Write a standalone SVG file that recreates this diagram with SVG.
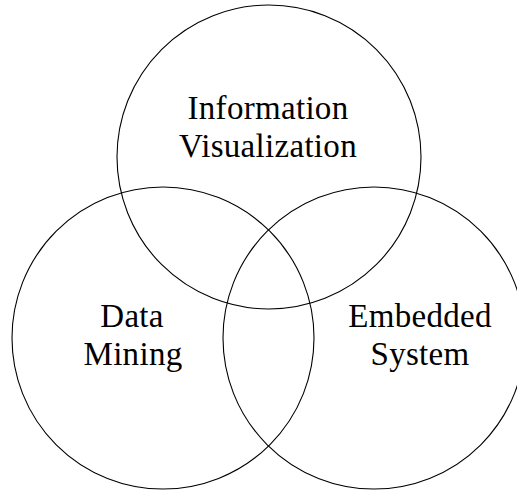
<svg xmlns="http://www.w3.org/2000/svg" width="517" height="491" viewBox="0 0 517 491">
<style>
.c{fill:none;stroke:#000;stroke-width:1.1}
.t{font-family:"Liberation Serif","Times New Roman",serif;font-size:33px;fill:#000;text-anchor:middle;letter-spacing:0.3px}
</style>
<rect width="517" height="491" fill="#fff"/>
<g id="info"><circle class="c" cx="269" cy="157" r="152"/><text class="t" x="268" y="119">Information</text><text class="t" x="268" y="157">Visualization</text></g>
<g id="data"><circle class="c" cx="163" cy="338" r="151"/><text class="t" x="132" y="327">Data</text><text class="t" x="133" y="365">Mining</text></g>
<g id="embedded"><circle class="c" cx="374" cy="338" r="151"/><text class="t" x="420" y="327">Embedded</text><text class="t" x="420" y="365">System</text></g>
</svg>
